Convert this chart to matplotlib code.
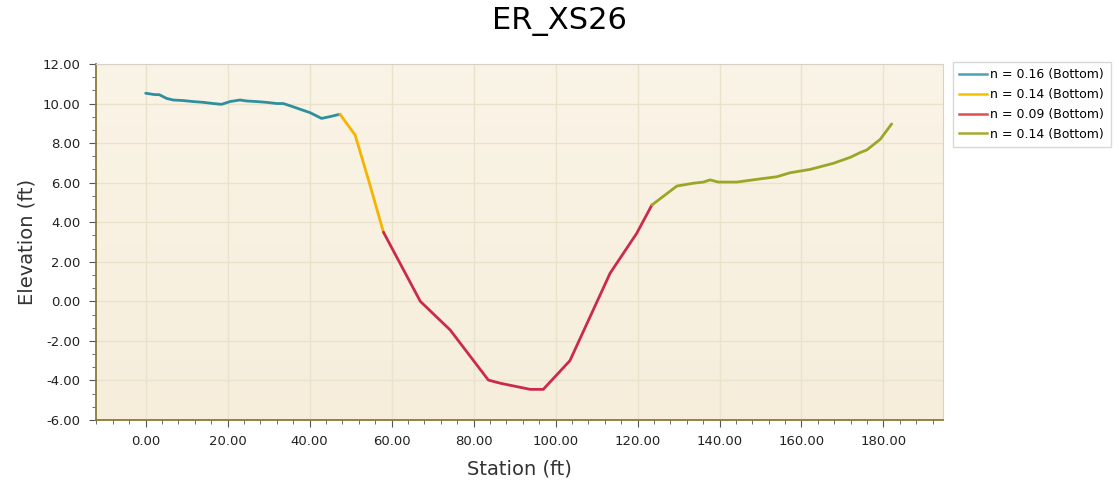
import numpy as np
import matplotlib.pyplot as plt
from matplotlib.colors import LinearSegmentedColormap
from matplotlib.ticker import MultipleLocator, AutoMinorLocator, FormatStrFormatter

# station / elevation for each roughness segment
sta_1 = [0.0, 2.3, 3.3, 5.1, 6.7, 9.2, 11.6, 14.1, 16.5, 18.5, 20.6, 23.0, 24.6,
         27.1, 29.5, 32.0, 33.6, 35.2, 37.7, 40.1, 42.9, 45.0, 47.4]
elev_1 = [10.52, 10.45, 10.45, 10.26, 10.18, 10.15, 10.1, 10.06, 10.0, 9.96, 10.1,
          10.18, 10.13, 10.1, 10.06, 10.0, 10.0, 9.89, 9.71, 9.54, 9.25, 9.34, 9.46]

sta_2 = [47.4, 51.1, 54.6, 58.0]
elev_2 = [9.46, 8.41, 5.97, 3.5]

sta_3 = [58.0, 67.0, 74.3, 83.6, 86.5, 93.8, 97.0, 103.5, 113.3, 119.8, 123.5]
elev_3 = [3.5, 0.0, -1.45, -3.98, -4.14, -4.45, -4.45, -3.0, 1.42, 3.44, 4.87]

sta_4 = [123.5, 129.6, 133.6, 136.1, 137.7, 139.7, 144.2, 149.9, 154.0, 157.2,
         162.1, 167.8, 171.9, 174.3, 175.9, 179.2, 182.0]
elev_4 = [4.87, 5.83, 5.97, 6.03, 6.14, 6.03, 6.03, 6.19, 6.3, 6.5, 6.67, 6.98,
          7.28, 7.52, 7.65, 8.19, 8.97]

labels = ['n = 0.16 (Bottom)', 'n = 0.14 (Bottom)', 'n = 0.09 (Bottom)', 'n = 0.14 (Bottom)']
colors = ['#2f8f9e', '#f4b400', '#cc2a4a', '#9aa626']
legend_colors = ['#4aa3b0', '#f5c000', '#e05050', '#a4ac30']

fig = plt.figure(figsize=(11.19, 4.84), dpi=100)
ax = fig.add_axes([0.0855, 0.1322, 0.7575, 0.7356])

# pale cream gradient behind the plot (lighter at the top)
bg = LinearSegmentedColormap.from_list('bg', ['#f6eedb', '#faf4e7'])
grad = np.linspace(0, 1, 256).reshape(-1, 1)
ax.imshow(grad, cmap=bg, aspect='auto', origin='lower', extent=[0, 1, 0, 1],
          transform=ax.transAxes, zorder=0)

segments = [(sta_1, elev_1), (sta_2, elev_2), (sta_3, elev_3), (sta_4, elev_4)]
for (x, y), c in zip(segments, colors):
    ax.plot(x, y, color=c, lw=2, solid_capstyle='round', zorder=3)

ax.set_xlim(-12.2, 194.6)
ax.set_ylim(-6, 12)
ax.xaxis.set_major_locator(MultipleLocator(20))
ax.xaxis.set_minor_locator(MultipleLocator(4))
ax.yaxis.set_major_locator(MultipleLocator(2))
ax.yaxis.set_minor_locator(AutoMinorLocator(3))
ax.xaxis.set_major_formatter(FormatStrFormatter('%.2f'))
ax.yaxis.set_major_formatter(FormatStrFormatter('%.2f'))
ax.set_xticks([0, 20, 40, 60, 80, 100, 120, 140, 160, 180])

ax.grid(True, which='major', color='#ebe2cc', lw=1, zorder=1)

for side in ['top', 'right']:
    ax.spines[side].set_color('#d6d2c8')
for side in ['left', 'bottom']:
    ax.spines[side].set_color('#8a7a3c')
    ax.spines[side].set_linewidth(1.3)

ax.tick_params(which='major', length=5, color='#555555', labelsize=9.5, labelcolor='#222222', pad=6)
ax.tick_params(which='minor', length=3, color='#555555')

ax.set_xlabel('Station (ft)', fontsize=14, color='#333333', labelpad=8)
ax.set_ylabel('Elevation (ft)', fontsize=14, color='#333333')
fig.suptitle('ER_XS26', fontsize=22, y=0.985)

handles = [plt.Line2D([], [], color=c, lw=1.8) for c in legend_colors]
leg = fig.legend(handles, labels, loc='upper left', bbox_to_anchor=(0.846, 0.885),
                 fontsize=9, frameon=True, fancybox=False, handlelength=2.2,
                 handletextpad=0.3, labelspacing=0.55, borderpad=0.5)
leg.get_frame().set_edgecolor('#cfcfcf')
leg.get_frame().set_linewidth(1)

plt.savefig('out.png', dpi=100)
